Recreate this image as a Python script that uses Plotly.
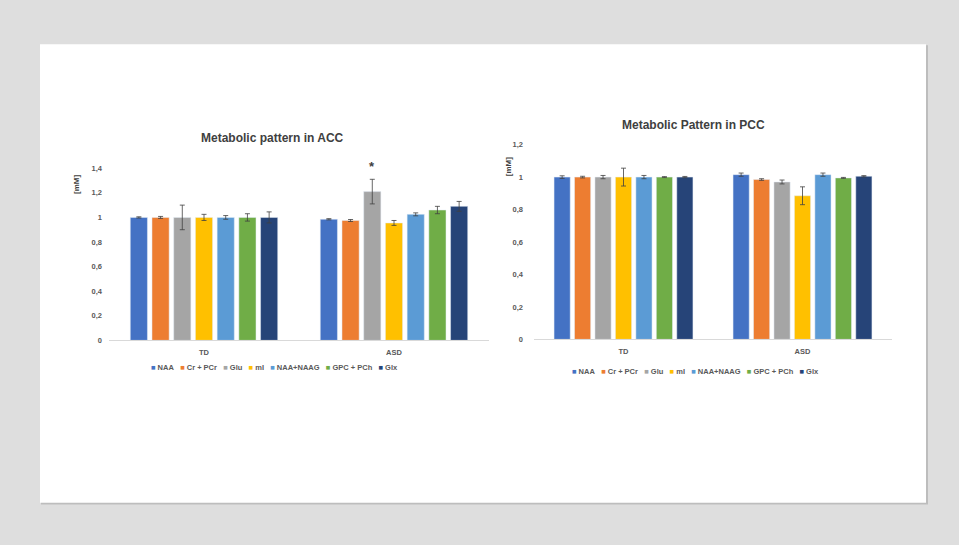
import plotly.graph_objects as go

W, H = 959, 545

groups = ["TD", "ASD"]
metabolites = ["NAA", "Cr + PCr", "Glu", "mI", "NAA+NAAG", "GPC + PCh", "Glx"]
colors = ["#4472C4", "#ED7D31", "#A5A5A5", "#FFC000", "#5B9BD5", "#70AD47", "#264478"]

# ACC values [TD, ASD] per metabolite
acc_vals = [[1.0, 0.985], [1.0, 0.975], [1.0, 1.21], [1.0, 0.955],
            [1.0, 1.025], [1.0, 1.06], [1.0, 1.09]]
acc_err = [[0.005, 0.005], [0.008, 0.008], [0.10, 0.10], [0.025, 0.02],
           [0.015, 0.012], [0.03, 0.03], [0.045, 0.04]]
# PCC values
pcc_vals = [[1.0, 1.015], [1.0, 0.985], [1.0, 0.97], [1.0, 0.885],
            [1.0, 1.015], [1.0, 0.995], [1.0, 1.005]]
pcc_err = [[0.008, 0.01], [0.005, 0.005], [0.01, 0.012], [0.055, 0.055],
           [0.01, 0.01], [0.003, 0.003], [0.004, 0.004]]

acc_ticks = [0, 0.2, 0.4, 0.6, 0.8, 1, 1.2, 1.4]
acc_ticktext = ["0", "0,2", "0,4", "0,6", "0,8", "1", "1,2", "1,4"]
pcc_ticks = [0, 0.2, 0.4, 0.6, 0.8, 1, 1.2]
pcc_ticktext = ["0", "0,2", "0,4", "0,6", "0,8", "1", "1,2"]

FONT = "Liberation Sans"
TXT = "#595959"
DARK = "#404040"

fig = go.Figure()
for i, m in enumerate(metabolites):
    fig.add_trace(go.Bar(
        x=groups, y=acc_vals[i], name=m, marker_color=colors[i], showlegend=False,
        error_y=dict(type="data", array=acc_err[i], color=DARK, thickness=0.8, width=2.5),
        xaxis="x", yaxis="y"))
for i, m in enumerate(metabolites):
    fig.add_trace(go.Bar(
        x=groups, y=pcc_vals[i], name=m, marker_color=colors[i], showlegend=False,
        error_y=dict(type="data", array=pcc_err[i], color=DARK, thickness=0.8, width=2.5),
        xaxis="x2", yaxis="y2"))

def px_x(p): return p / W
def px_y(p): return 1 - p / H

tickfont = dict(family=FONT, size=7.5, color=TXT)
bold = lambda lst: ["<b>%s</b>" % t for t in lst]
xaxis_common = dict(showgrid=False, zeroline=False, ticks="outside", ticklen=5,
                    tickcolor="rgba(0,0,0,0)", tickfont=tickfont, showline=True,
                    linecolor="#d9d9d9", linewidth=1, tickvals=groups, ticktext=bold(groups))
yaxis_common = dict(showgrid=False, zeroline=False, ticks="", tickfont=tickfont, showline=False)

legend_text = "&nbsp;&nbsp;&nbsp;".join(
    "<span style='color:%s'>■</span> %s" % (c, m) for c, m in zip(colors, metabolites))

fig.update_layout(
    width=W, height=H, margin=dict(l=0, r=0, t=0, b=0),
    paper_bgcolor="#dedede", plot_bgcolor="rgba(0,0,0,0)",
    barmode="group", bargap=0.2, bargroupgap=0.21,
    font=dict(family=FONT, color=TXT),
    showlegend=False,
    xaxis=dict(domain=[px_x(109), px_x(489)], anchor="y", **xaxis_common),
    yaxis=dict(domain=[px_y(342), px_y(167)], anchor="x", range=[0, 1.4],
               tickvals=acc_ticks, ticktext=bold(acc_ticktext), ticklabelstandoff=6,
               **yaxis_common),
    xaxis2=dict(domain=[px_x(534), px_x(892)], anchor="y2", **xaxis_common),
    yaxis2=dict(domain=[px_y(341), px_y(143)], anchor="x2", range=[0, 1.2],
                tickvals=pcc_ticks, ticktext=bold(pcc_ticktext), ticklabelstandoff=10,
                **yaxis_common),
    shapes=[
        dict(type="rect", xref="paper", yref="paper", layer="below",
             x0=px_x(41), x1=px_x(928), y0=px_y(509), y1=px_y(42),
             fillcolor="#bdbdbd", line=dict(width=0)),
        dict(type="rect", xref="paper", yref="paper", layer="below",
             x0=px_x(40), x1=px_x(926), y0=px_y(507), y1=px_y(41),
             fillcolor="white", line=dict(width=0)),
    ],
    annotations=[
        dict(text="<b>Metabolic pattern in ACC</b>", xref="paper", yref="paper",
             x=px_x(272), y=px_y(136), xanchor="center", yanchor="middle", showarrow=False,
             font=dict(family=FONT, size=12, color=DARK)),
        dict(text="<b>Metabolic Pattern in PCC</b>", xref="paper", yref="paper",
             x=px_x(693), y=px_y(123), xanchor="center", yanchor="middle", showarrow=False,
             font=dict(family=FONT, size=12, color=DARK)),
        dict(text="<b>[mM]</b>", xref="paper", yref="paper", textangle=-90,
             x=px_x(77), y=px_y(184), xanchor="center", yanchor="middle", showarrow=False,
             font=dict(family=FONT, size=8, color=DARK)),
        dict(text="<b>[mM]</b>", xref="paper", yref="paper", textangle=-90,
             x=px_x(508), y=px_y(166), xanchor="center", yanchor="middle", showarrow=False,
             font=dict(family=FONT, size=8, color=DARK)),
        dict(text="<b>%s</b>" % legend_text, xref="paper", yref="paper",
             x=px_x(274), y=px_y(370), xanchor="center", yanchor="middle", showarrow=False,
             font=dict(family=FONT, size=7.5, color=TXT)),
        dict(text="<b>%s</b>" % legend_text, xref="paper", yref="paper",
             x=px_x(695), y=px_y(374), xanchor="center", yanchor="middle", showarrow=False,
             font=dict(family=FONT, size=7.5, color=TXT)),
        dict(text="<b>*</b>", xref="x", yref="y", x="ASD", y=acc_vals[2][1] + acc_err[2][1],
             xshift=-22, yanchor="bottom", yshift=3, showarrow=False,
             font=dict(family=FONT, size=13, color=DARK)),
    ],
)

fig.write_html("out.html", config={"displayModeBar": False},
               post_script="document.body.style.margin='0';document.body.style.overflow='hidden';")
